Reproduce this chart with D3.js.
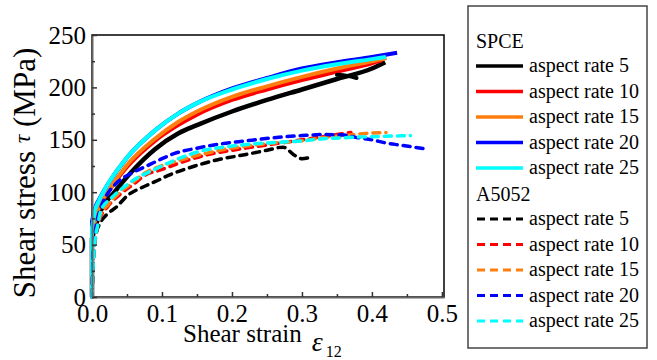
<!DOCTYPE html>
<html>
<head>
<meta charset="utf-8">
<script src="https://cdn.jsdelivr.net/npm/d3@7"></script>
<style>
  body { margin: 0; background: #fff; }
  svg { display: block; }
</style>
</head>
<body>
<div id="chart"></div>
<script>
// tick labels
var xTicks = [0, 0.1, 0.2, 0.3, 0.4, 0.5];
var yTicks = [0, 50, 100, 150, 200, 250];
var rates = ["aspect rate 5", "aspect rate 10", "aspect rate 15", "aspect rate 20", "aspect rate 25"];
var colors = ["#000000", "#ff0000", "#ff7f0e", "#0000ff", "#00ffff"];

// SPCE, [strain, stress MPa]
var spce5 = [[0,0],[0,56],[0.013,83],[0.032,100],[0.056,119],[0.09,141],[0.123,156],[0.15,164],[0.2,177],[0.25,188],[0.3,198],[0.35,208],[0.4,218],[0.419,224]];
var spce5Tail = [[0.35,212],[0.365,211],[0.378,209]];
var spce10 = [[0,0],[0,62],[0.01,85],[0.025,102],[0.05,124],[0.09,149],[0.123,164],[0.15,174],[0.2,188],[0.25,198],[0.3,207],[0.35,215],[0.4,223],[0.415,226]];
var spce15 = [[0,0],[0,62],[0.01,86],[0.025,103],[0.05,126],[0.09,151],[0.123,167],[0.15,177],[0.2,191],[0.25,201],[0.3,210],[0.35,218],[0.4,225],[0.421,228]];
var spce20 = [[0,0],[0,72],[0.004,84],[0.01,93],[0.023,108],[0.05,133],[0.09,159],[0.123,175],[0.15,185],[0.2,199],[0.25,209],[0.3,218],[0.35,224],[0.4,229],[0.436,233]];
var spce25 = [[0,0],[0,66],[0.004,82],[0.01,92],[0.023,108],[0.05,133],[0.09,159],[0.123,175],[0.15,185],[0.2,198],[0.25,208],[0.3,216],[0.35,222],[0.4,227],[0.42,229]];

// A5052
var al5 = [[0,0],[0.002,35],[0.006,60],[0.012,71],[0.02,78],[0.035,86],[0.051,97],[0.073,105],[0.09,110],[0.109,116],[0.147,125],[0.18,131],[0.22,136],[0.25,140],[0.273,143],[0.29,135],[0.3,132],[0.31,133]];
var al10 = [[0,0],[0.002,40],[0.006,62],[0.012,76],[0.022,86],[0.04,98],[0.06,108],[0.075,116],[0.097,121],[0.13,129],[0.16,135],[0.2,140],[0.25,145],[0.3,150],[0.35,155],[0.37,157]];
var al15 = [[0,0],[0.002,40],[0.006,62],[0.012,78],[0.023,88],[0.04,100],[0.056,108],[0.075,118],[0.094,124],[0.113,128],[0.15,135],[0.183,140],[0.22,144],[0.26,147],[0.3,149],[0.33,152],[0.36,154],[0.39,156],[0.42,157]];
var al20 = [[0,0],[0.002,45],[0.006,68],[0.012,84],[0.02,96],[0.034,108],[0.056,118],[0.075,124],[0.097,131],[0.118,137],[0.15,142],[0.183,146],[0.22,149],[0.26,152],[0.3,154],[0.33,155],[0.36,154.5],[0.38,152],[0.4,150],[0.42,147],[0.44,145],[0.46,143],[0.48,141]];
var al25 = [[0,0],[0.0015,28],[0.004,52],[0.008,68],[0.013,83],[0.027,94],[0.044,104],[0.063,113],[0.087,121],[0.113,129],[0.154,139],[0.2,144],[0.25,147],[0.3,149],[0.33,151],[0.36,152],[0.4,153],[0.455,154]];

var spce = [spce5, spce10, spce15, spce20, spce25];
var al = [al5, al10, al15, al20, al25];

var W = 657, H = 360;
var serif = "'Liberation Serif', 'Times New Roman', Tinos, 'DejaVu Serif', serif";
var svg = d3.select("#chart").append("svg").attr("width", W).attr("height", H)
  .style("font-family", serif);

var x = d3.scaleLinear().domain([0, 0.503]).range([92, 444]);
var y = d3.scaleLinear().domain([0, 250]).range([297, 35]);

var line = d3.line().x(d => x(d[0])).y(d => y(d[1])).curve(d3.curveMonotoneX);
var vline = d3.line().x(d => x(d[0])).y(d => y(d[1]));

// frame
svg.append("rect").attr("x", 92).attr("y", 35).attr("width", 352).attr("height", 262)
  .attr("fill", "none").attr("stroke", "#000").attr("stroke-width", 1.5);

var plot = svg.append("g");

// solid SPCE
spce.forEach(function (s, i) {
  plot.append("path").attr("d", vline(s.slice(0, 2)) + line(s.slice(1)).replace(/^M/, "L"))
    .attr("fill", "none").attr("stroke", colors[i]).attr("stroke-width", i == 0 ? 4.5 : 4)
    .attr("stroke-linejoin", "round");
});
plot.append("path").attr("d", line(spce5Tail))
  .attr("fill", "none").attr("stroke", colors[0]).attr("stroke-width", 4).attr("stroke-linecap", "round");

// dashed A5052
al.forEach(function (s, i) {
  plot.append("path").attr("d", line(s))
    .attr("fill", "none").attr("stroke", colors[i]).attr("stroke-width", 3.5)
    .attr("stroke-dasharray", "7,6").attr("stroke-linecap", "round");
});

// axes
var xMinor = d3.range(0.05, 0.5, 0.1);
var yMinor = d3.range(25, 250, 50);

var gx = svg.append("g").attr("transform", "translate(0,297)")
  .call(d3.axisBottom(x).tickValues(xTicks).tickFormat(d3.format(".1f")).tickSizeInner(-5).tickSizeOuter(0).tickPadding(7));
svg.append("g").attr("transform", "translate(0,297)")
  .call(d3.axisBottom(x).tickValues(xMinor).tickFormat("").tickSizeInner(-3).tickSizeOuter(0))
  .select(".domain").remove();
var gy = svg.append("g").attr("transform", "translate(92,0)")
  .call(d3.axisLeft(y).tickValues(yTicks).tickSizeInner(-5).tickSizeOuter(0).tickPadding(6));
svg.append("g").attr("transform", "translate(92,0)")
  .call(d3.axisLeft(y).tickValues(yMinor).tickFormat("").tickSizeInner(-3).tickSizeOuter(0))
  .select(".domain").remove();

svg.selectAll(".tick line").attr("stroke", "#333").attr("stroke-width", 1.5);
[gx, gy].forEach(function (g) {
  g.select(".domain").attr("stroke", "#666").attr("stroke-width", 2);
  g.selectAll("text").attr("font-size", 25).attr("fill", "#000");
});

// axis titles
var xt = svg.append("text").attr("x", 183).attr("y", 342).attr("font-size", 25);
xt.append("tspan").text("Shear strain");
xt.append("tspan").attr("font-style", "italic").attr("font-size", 28).attr("dx", 10).attr("dy", 9).text("ε");
xt.append("tspan").attr("font-size", 16).attr("dy", 6).attr("dx", 3).text("12");

var yt = svg.append("text").attr("transform", "translate(35,173) rotate(-90)")
  .attr("text-anchor", "middle").attr("font-size", 31);
yt.append("tspan").text("Shear stress ");
yt.append("tspan").attr("font-style", "italic").attr("font-size", 24).attr("dy", -5).text("τ");
yt.append("tspan").attr("dy", 5).text(" (MPa)");

// legend
var lg = svg.append("g");
lg.append("rect").attr("x", 468).attr("y", 6).attr("width", 179).attr("height", 342)
  .attr("fill", "#fff").attr("stroke", "#444").attr("stroke-width", 1.5);

var rowY = i => 66 + 25.5 * i;
lg.append("text").attr("x", 476).attr("y", rowY(-1) + 7).attr("font-size", 20).text("SPCE");
lg.append("text").attr("x", 476).attr("y", rowY(5) + 7).attr("font-size", 20).text("A5052");

rates.forEach(function (r, i) {
  var ys = rowY(i), yd = rowY(i + 6);
  lg.append("line").attr("x1", 476).attr("x2", 523).attr("y1", ys).attr("y2", ys)
    .attr("stroke", colors[i]).attr("stroke-width", 3.5);
  lg.append("text").attr("x", 529).attr("y", ys + 6).attr("font-size", 20).text(r);
  lg.append("line").attr("x1", 477).attr("x2", 523).attr("y1", yd).attr("y2", yd)
    .attr("stroke", colors[i]).attr("stroke-width", 3).attr("stroke-dasharray", "8,5");
  lg.append("text").attr("x", 529).attr("y", yd + 6).attr("font-size", 20).text(r);
});

// force the serif face on every label (axis groups set their own family)
svg.selectAll("text").style("font-family", serif);
</script>
</body>
</html>
